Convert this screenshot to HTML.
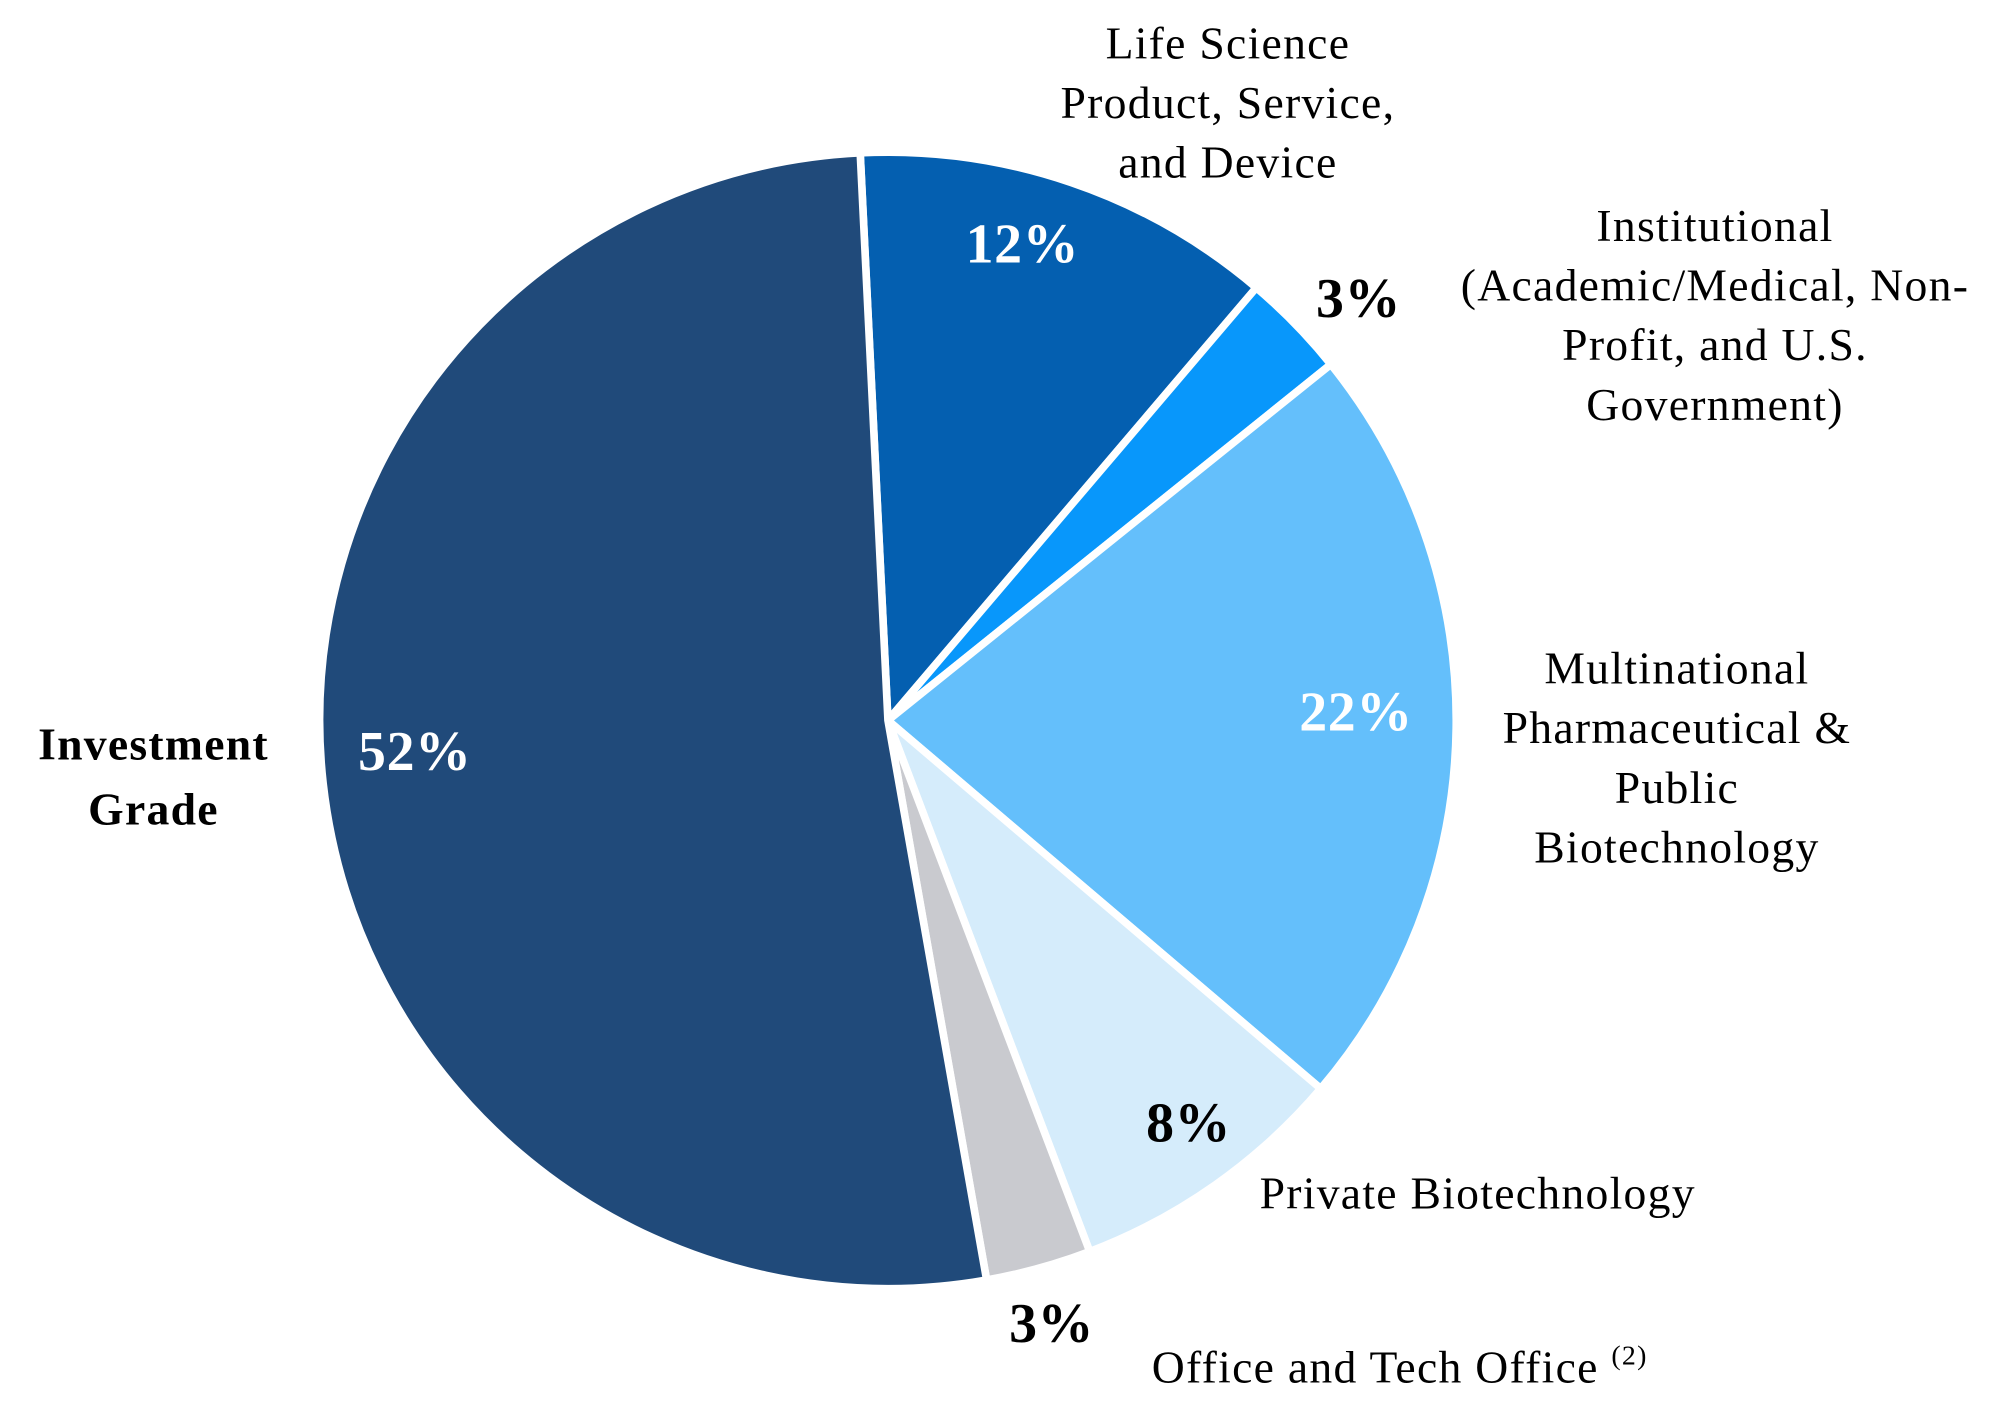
<!DOCTYPE html>
<html><head><meta charset="utf-8"><style>
html,body{margin:0;padding:0;background:#fff;}
svg{display:block;}
text{font-family:"Liberation Serif",serif;font-size:36px;letter-spacing:1px;fill:#000;}
.pct{font-weight:bold;font-size:44px;letter-spacing:0.5px;}
.w{fill:#fff;}
</style></head><body>
<svg id="chart" width="1989" height="1404" viewBox="0 0 1568 1107" preserveAspectRatio="none" xmlns="http://www.w3.org/2000/svg">
<g id="slices"></g>
<g>
<text text-anchor="middle" x="968" y="46">Life Science</text>
<text text-anchor="middle" x="968" y="93">Product, Service,</text>
<text text-anchor="middle" x="968" y="140">and Device</text>
<text text-anchor="middle" x="1352" y="190">Institutional</text>
<text text-anchor="middle" x="1352" y="237">(Academic/Medical, Non-</text>
<text text-anchor="middle" x="1352" y="284">Profit, and U.S.</text>
<text text-anchor="middle" x="1352" y="331">Government)</text>
<text text-anchor="middle" x="1322" y="539">Multinational</text>
<text text-anchor="middle" x="1322" y="586">Pharmaceutical &amp;</text>
<text text-anchor="middle" x="1322" y="633">Public</text>
<text text-anchor="middle" x="1322" y="680">Biotechnology</text>
<text x="993" y="953">Private Biotechnology</text>
<text x="908" y="1090">Office and Tech Office <tspan font-size="22" dy="-14">(2)</tspan></text>
<text text-anchor="middle" x="121" y="599" font-weight="bold" font-size="41" letter-spacing="1.5">Investment</text>
<text text-anchor="middle" x="121" y="650" font-weight="bold" font-size="41" letter-spacing="1.5">Grade</text>
<text class="pct w" text-anchor="middle" x="806" y="207">12%</text>
<text class="pct" text-anchor="middle" x="1071" y="250">3%</text>
<text class="pct w" text-anchor="middle" x="1069" y="576">22%</text>
<text class="pct" text-anchor="middle" x="937" y="900">8%</text>
<text class="pct" text-anchor="middle" x="829" y="1058">3%</text>
<text class="pct w" text-anchor="middle" x="327" y="607">52%</text>
</g>
</svg>
<script>
const categories = ["life-science","institutional","multinational","private-biotech","office","investment-grade"];
const values = [12, 3, 22, 8, 3, 52];
const colors = ["#045fb0","#0897fb","#64bffb","#d5ecfb","#c9cacf","#204a7a"];
const cx = 700, cy = 568, r = 448, startDeg = -2.8;
const g = document.getElementById('slices');
const total = values.reduce((a,b)=>a+b,0);
let a0 = startDeg;
function pt(deg){const t=deg*Math.PI/180;return [cx+r*Math.sin(t), cy-r*Math.cos(t)];}
values.forEach((v,i)=>{
  const a1 = a0 + v/total*360;
  const p0 = pt(a0), p1 = pt(a1);
  const large = (a1-a0)>180?1:0;
  const path = document.createElementNS('http://www.w3.org/2000/svg','path');
  path.setAttribute('d',`M${cx},${cy} L${p0[0]},${p0[1]} A${r},${r} 0 ${large} 1 ${p1[0]},${p1[1]} Z`);
  path.setAttribute('fill',colors[i]);
  path.setAttribute('stroke','#fff');
  path.setAttribute('stroke-width','6');
  path.setAttribute('stroke-linejoin','round');
  
  
  g.appendChild(path);
  a0 = a1;
});
</script>
</body></html>
